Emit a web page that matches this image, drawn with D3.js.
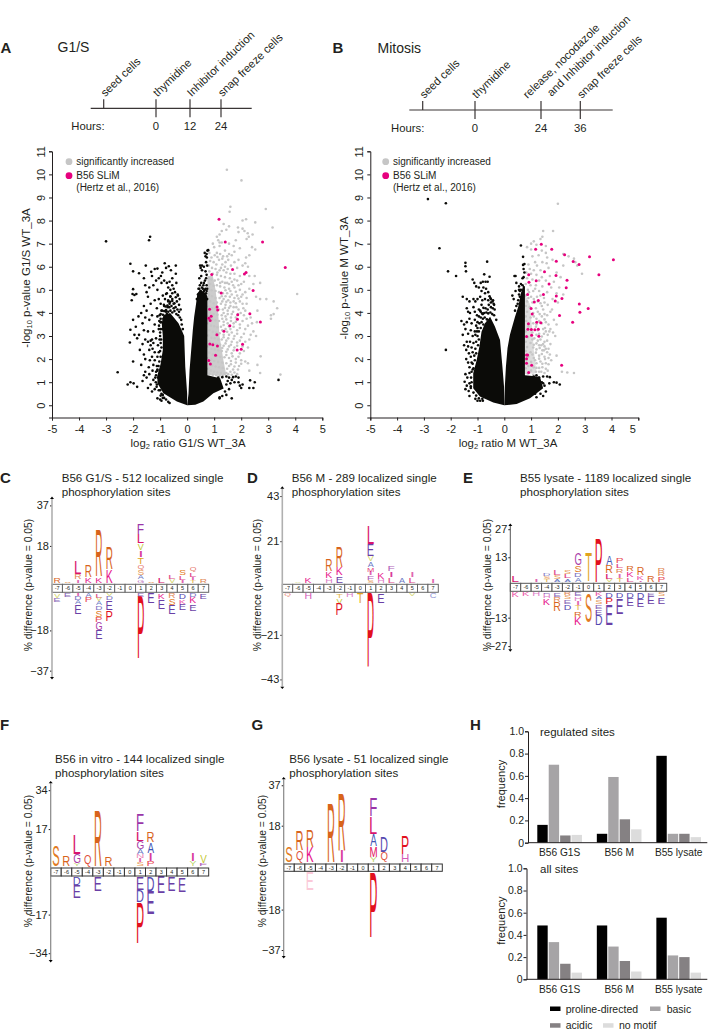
<!DOCTYPE html>
<html><head><meta charset="utf-8">
<script src="https://cdnjs.cloudflare.com/ajax/libs/d3/7.8.5/d3.min.js"></script>
<style>html,body{margin:0;padding:0;background:#fff}svg{display:block}text{font-family:"Liberation Sans",Arial,sans-serif;fill:#231f20}</style>
</head><body><svg id="c" width="709" height="1033"></svg>
<script>
// ---------- DATA ----------
const timelineA=[{t:"seed cells",h:""},{t:"thymidine",h:"0"},{t:"Inhibitor induction",h:"12"},{t:"snap freeze cells",h:"24"}];
const timelineB=[{t:"seed cells",h:""},{t:"thymidine",h:"0"},{t:"release, nocodazole|and Inhibitor induction",h:"24"},{t:"snap freeze cells",h:"36"}];

// dense black core of each volcano, outlined from the picture [log2 ratio, -log10 p]
const massA=[
[[0,0],[-.38,.16],[-.88,.52],[-1.1,.95],[-1.1,1.3],[-.98,1.8],[-.9,2.4],[-.9,3],[-.94,3.55],[-.88,3.9],[-.63,4],[-.32,3.55],[-.18,3.2],[-.11,3],[-.07,1.67],[0,.5]],
[[0,0],[.05,.5],[.09,1.53],[.14,2.25],[.21,3.26],[.26,3.84],[.33,4.4],[.38,4.85],[.48,5],[.7,4.85],[.75,4.7],[.75,1.3],[1.22,1.17],[1.35,.73],[.97,.52],[.6,.16],[.3,.02]]];
const massB=[
[[0,0],[-.41,.12],[-.91,.38],[-1.16,.74],[-1.16,1.39],[-1.03,1.96],[-.93,2.54],[-.85,3.19],[-.72,3.55],[-.53,3.84],[-.35,3.41],[-.16,2.83],[-.07,1.67],[-.01,.8]],
[[0,0],[.02,.8],[.06,1.67],[.12,2.47],[.21,3.05],[.4,3.84],[.52,4.27],[.62,4.85],[.71,5.2],[.77,5.14],[.77,1.3],[1.33,1.24],[1.45,.74],[.96,.3],[.46,.06]]];
// dense grey core, outlined from the picture
const coreA=[[.75,1.3],[1.45,1.3],[1.35,1.9],[1.2,3],[1.15,4],[1.05,5],[.95,5.6],[.75,5.6]];
const coreB=[[.77,1.35],[1.2,1.4],[1.1,2.4],[1.05,3.2],[.95,4.4],[.77,4.8]];

const blackA=[[-3,7.1],[-1.41,7.15],[-1.37,7.3],[-2.1,6.13],[-2,5.8],[-1.78,5.72],[-1.53,6.05],[-1.33,5.78],[-1.3,5.6],[-1.2,5.9],[-1.1,5.92],[-1.05,5.5],[-.97,5.6],[-.92,5.75],[-.83,6.15],[-.78,5.95],[-.68,6.02],[-.6,5.85],[-.55,5.5],[-.42,6.05],[-.42,5.7],[-.4,5.3],
[-2,5.03],[-2.02,4.82],[-1.95,4.78],[-1.88,4.82],[-2.05,4.55],[-1.6,5.5],[-1.55,5.2],[-1.5,4.9],[-1.4,5.1],[-1.25,5.2],[-1.15,5.4],[-1.1,5],[-.95,5.3],[-.85,5.4],[-.75,5.3],[-.7,5.1],[-.65,5.35],[-.62,5],[-.55,5.2],[-.5,5.05],[-.45,4.9],[-.35,4.8],
[-1.45,4.7],[-1.6,4.3],[-1.7,4],[-1.8,3.85],[-1.5,4.1],[-1.35,4.4],[-1.2,4.55],[-1.05,4.6],[-.98,4.4],[-.9,4.75],[-.82,4.6],[-.75,4.85],[-.7,4.5],[-.62,4.7],[-.55,4.6],[-.5,4.4],[-1.12,4.2],[-.95,4.1],[-.85,4.3],[-.78,4.05],[-.72,4.25],[-.65,4.4],
[-2,3.7],[-1.9,3.4],[-2.1,3.27],[-1.78,3.05],[-1.95,3.05],[-2.12,2.72],[-1.85,2.9],[-1.65,3.55],[-1.55,3.8],[-1.4,3.7],[-1.3,3.9],[-1.2,3.5],[-1.1,3.85],[-1.05,3.3],[-.98,3.6],[-1.25,3.2],[-1.45,3.2],[-1.6,3.25],[-1.02,3.9],[-.92,3.3],[-.88,3.75],
[-1.65,2.65],[-1.75,2.4],[-1.6,2.2],[-1.55,2.85],[-1.4,2.4],[-1.35,2.8],[-1.35,2.6],[-1.3,2.85],[-1.28,2.45],[-1.25,2.7],[-1.2,2.3],[-1.15,2.9],[-1.1,2.1],[-1.45,2.75],[-1.08,2.6],[-1.12,1.7],[-1.05,2.3],[-1.02,2.85],
[-2,1.9],[-1.7,1.75],[-1.55,2],[-1.38,1.95],[-1.3,2.1],[-1.25,1.75],[-1.2,1.95],[-1.1,1.5],[-1.15,1.3],[-1.28,1.5],[-1.42,1.65],[-1.55,1.45],
[-2.57,1.43],[-2.2,.9],[-2.1,1],[-1.98,.95],[-1.85,.8],[-1.6,1.3],[-1.65,1.05],[-1.5,1.2],[-1.4,1.35],[-1.35,.9],[-1.45,.75],[-1.25,1.1],[-1.2,.7],[-1.12,.9],[-1.3,.6],[-1.08,1.2],[-1.1,.3],[-1,.25],[-.95,.2],[-.85,.32],[-.95,.5],[-1,.65],[-.78,.25],[-.7,.15],[-.9,.45],
[.42,5.05],[.47,5.2],[.52,5.6],[.5,4.95],[.58,5.05],[.62,5.3],[.65,5],[.7,4.85],[.55,5.85],[.5,5.95],[.45,5.5],[.72,5.2],[.7,5.5],[.72,5.65],[.68,5.8],[.62,6],[.7,6.2],[.73,6.4],[.72,6.55],[.75,6.7],[.78,6.72],[.68,6.45],[.65,6.6],[.74,6.05],[.55,6.05],[.48,6.05],[.74,4.6],
[1.45,1.25],[1.55,1.2],[1.65,1.1],[1.7,1.22],[1.8,1.25],[1.9,1.2],[1.5,1.05],[1.6,.95],[1.75,1],[1.9,1],[1.95,.85],[2,.75],[2.05,.9],[1.45,.9],[1.4,.6],[1.55,.7],[1.3,.4],[1.2,.3],[1.65,.3],[2.3,.75],[2.45,.75],[2.33,1.08],[2.5,1],[3.38,1.1],[1.15,1.2],[1.3,1.22],[1.2,.35],[1.45,.45]];
const speckleA=[[-.78,4.82],[-.62,4.72],[-.55,4.85],[-.42,4.68],[-.34,4.75],[-.28,4.6],[-.7,4.55],[-.63,4.48],[-.55,4.52],[-.47,4.42],[-.38,4.5],[-.3,4.35],[-.24,4.15],[-.86,4.35],[-.8,4.28],[-.73,4.32],[-.66,4.25],[-.58,4.3],[-.5,4.2],[-.43,4.25],[-.36,4.15],[-.3,4.05],[-.93,4.1],[-.85,4.08],[-.78,4.12],[-.7,4.05],[-.62,4.1],[-.55,4.02],[-.47,4.08],[-.4,3.95],[-.33,3.9],[-.27,3.8],[-.22,3.7],[-.98,3.95],[-.9,3.92],[-.82,3.88],[-.75,3.95],[-.98,3.75],[-1.03,3.65],[-.97,3.6],[-1.04,3.45],[-.98,3.3],[-1,3.15],[-1,3],[-.96,2.85],[-.98,2.7],[-.95,2.5],[-1,2.35],[-.98,2.1],[-1.03,1.9],[-1.06,1.7],[-1.1,1.55],[-1.15,1.45],[-1.18,1.2],[-1.16,1],[-1.13,.8],[-1.05,.65],[-.98,.42],[-.9,.32],[-.65,.1],[.36,4.6],[.4,4.8],[.45,5.05],[.55,5.1],[.62,4.95],[.68,5.05],[.6,5.2],[.52,5.3],[.66,5.4],[.74,5.05],[.72,4.95],[-.16,3.3],[-.2,3.5]];

const blackB=[[-2.85,8.93],[-2.18,8.75],[-2.42,6.8],[-2.18,2.4],[-2.1,5.8],[-1.8,5.6],[-1.45,6.17],[-1.45,6.02],[-1.43,5.8],[-.64,6.22],[-.75,5.67],[-.55,5.57],
[-1.18,5.45],[-1.12,5.3],[-1.05,5.15],[-.95,5.1],[-.88,5.3],[-.8,5.35],[-.7,5.35],[-.62,5.35],[-.85,4.95],[-.78,5.1],[-.72,4.85],[-.68,5.05],[-.6,4.9],[-1.55,4.7],[-1.4,4.6],[-1.3,4.5],[-1.15,4.6],[-1.08,4.5],[-1,4.6],[-.9,4.7],[-.82,4.55],[-.72,4.6],[-.6,4.55],[-.52,4.65],[-.5,4.45],[-.42,4.55],[-.38,4.35],
[-1.4,4.2],[-1.35,4.05],[-1.28,4],[-1.15,4.25],[-1.1,4.05],[-1.02,3.9],[-.95,4.15],[-.88,4.05],[-.8,3.95],[-1.6,3.65],[-1.5,3.5],[-1.4,3.6],[-1.3,3.75],[-1.22,3.55],[-1.1,3.7],[-1.05,3.45],[-1.45,3.3],[-1.55,3.05],[-1.35,3.1],[-1.25,3.25],[-1.18,3],[-1.1,3.2],[-1.02,3.2],
[-1.4,2.75],[-1.5,2.6],[-1.42,2.4],[-1.35,2.55],[-1.28,2.75],[-1.22,2.5],[-1.15,2.7],[-1.32,2.25],[-1.25,2.1],[-1.18,2.3],[-1.42,2],[-1.35,1.85],[-1.22,1.85],[-1.3,1.65],[-1.18,1.55],[-1.45,1.35],[-1.38,1.2],[-1.3,1.4],[-1.48,1.02],[-1.4,.85],[-1.3,.95],[-1.45,.7],[-1.33,.62],[-1.25,.75],[-1.3,.4],[-1.08,.28],[-1,.2],[-.9,.2],[-.82,.28],
[.42,4.95],[.3,4.75],[.35,4.6],[.55,5],[.45,5.3],[.38,5.6],[.42,5.6],[.55,5.15],[.62,5.25],[.68,5.5],[.72,5.55],[.75,5.75],[.72,5.9],[.7,6.08],[.75,6.12],[.7,6.43],[.62,6.92],[.58,4.95],
[1.1,1.25],[1.2,1.3],[1.3,1.2],[1.45,1.25],[1.6,1.25],[1.7,1.22],[1.4,1],[1.45,.95],[1.5,.85],[1.68,.95],[1.85,1],[1.95,.98],[2.07,.9],[1.55,.6],[1.35,.5],[1.45,.4],[1.2,.35],[1.15,.5]];
const speckleB=[[-.55,4.72],[-.5,4.6],[-.44,4.5],[-.4,4.4],[-.58,4.35],[-.5,4.25],[-.43,4.2],[-.36,4.15],[-.62,4.15],[-.7,4.2],[-.78,4.22],[-.85,4.35],[-.9,4.1],[-.83,3.98],[-.75,4],[-.67,4.02],[-.6,3.98],[-.52,4.02],[-.45,3.95],[-.38,3.9],[-.3,3.7],[-.95,3.85],[-.88,3.8],[-.8,3.75],[-.73,3.8],[-.65,3.72],[-1,3.6],[-.93,3.55],[-.85,3.6],[-.78,3.5],[-1,3.35],[-.95,3.2],[-.88,3.35],[-1.08,3.05],[-1,3],[-.95,2.85],[-1.05,2.75],[-.98,2.6],[-1.08,2.45],[-1.05,2.25],[-1.12,2.15],[-1.1,1.95],[-1.18,1.8],[-1.15,1.6],[-1.22,1.45],[-1.24,1.2],[-1.22,1],[-1.25,.82],[-1.15,.55],[-1.05,.42],[-.95,.3],[-.8,.2],[.4,4.1],[.45,4.3],[.52,4.55],[.5,4.4],[.58,4.7],[.62,5],[.68,5.2],[.55,4.8]];

const grayA=[[1.47,10.2],[2.01,9.74],[1.6,8.6],[1.57,8.38],[2.91,8.5],[2.18,8.06],[2.05,8],[2.52,7.92],[1.35,7.85],[1.55,7.75],[1.45,7.6],[1.28,7.55],[1.2,7.4],[1.1,7.3],[1.88,7.7],[2.05,7.65],[2.12,7.55],[2.24,7.45],[2.42,7.4],[1.9,7.5],[3.16,7.7],[2.28,7.3],[2.2,7.2],[1.8,7.15],[1.55,7],[1.28,7.05],[1.15,7.15],[.95,7],[1,6.85],[1.2,6.9],[1.4,6.7],[1.72,6.9],[1.95,6.8],[2.4,6.85],[2.52,6.75],[2.3,6.5],[1.65,6.5],
[.82,6.6],[.9,6.4],[1.02,6.5],[1.1,6.6],[1.22,6.55],[1.33,6.45],[1.52,6.3],[1.18,6.3],[.85,6.25],[.98,6.2],[1.08,6.1],[1.3,6.1],[1.42,6.2],[1.62,6.05],[1.9,6.3],[2.18,6.4],[2.15,6.15],[2.05,6.05],[2.25,6],[.8,6.05],[.92,5.95],[1.05,5.9],[1.2,5.85],[1.35,5.85],[1.5,5.9],[1.75,5.7],[1.95,5.6],[2.3,5.6],[2.5,5.6],[2.7,5.3],
[.82,5.8],[.95,5.7],[1.1,5.65],[1.25,5.6],[1.4,5.55],[1.58,5.5],[.8,5.5],[.9,5.45],[1.02,5.4],[1.15,5.45],[1.3,5.35],[1.48,5.3],[1.65,5.35],[1.85,5.4],[2.1,5.35],[2.45,5.25],[.85,5.25],[.98,5.18],[1.1,5.2],[1.22,5.15],[1.38,5.1],[1.55,5.05],[1.75,5.1],[1.95,5],[2.15,4.9],[2.3,5.05],[.8,5.05],[.9,4.98],[1.05,4.95],[1.18,4.9],[1.32,4.85],[1.48,4.85],[1.65,4.8],[1.85,4.75],[2.05,4.8],[2.55,4.7],[2.7,4.6],[2.93,4.6],[4.07,4.82],[3.2,4.5],
[.8,4.8],[.92,4.72],[1.05,4.65],[1.2,4.65],[1.35,4.6],[1.52,4.55],[1.72,4.5],[1.95,4.5],[2.2,4.4],[.85,4.5],[.98,4.42],[1.1,4.45],[1.25,4.4],[1.42,4.35],[1.6,4.3],[1.82,4.25],[2.08,4.2],[.8,4.28],[.92,4.2],[1.05,4.2],[1.18,4.15],[1.32,4.15],[1.5,4.1],[1.7,4.05],[1.98,4],[2.6,4.1],[3.33,4.2],[3.2,3.95],[3.1,3.9],[.85,4.02],[.98,3.95],[1.12,3.92],[1.28,3.9],[1.42,3.85],[1.62,3.8],[1.8,3.8],[2.2,3.75],[3.1,3.75],
[.8,3.85],[.92,3.72],[1.05,3.68],[1.18,3.65],[1.35,3.62],[1.5,3.55],[1.72,3.55],[1.95,3.5],[2.4,3.55],[2.58,3.6],[.78,3.55],[.88,3.45],[1,3.42],[1.12,3.38],[1.25,3.4],[1.42,3.3],[1.6,3.3],[1.85,3.25],[2.15,3.3],[2.45,3.2],[.82,3.25],[.95,3.18],[1.08,3.15],[1.2,3.12],[1.35,3.05],[1.55,3.05],[1.75,3],[2,2.95],[2.55,3],[.78,3.02],[.9,2.92],[1.02,2.9],[1.15,2.85],[1.28,2.85],[1.45,2.8],[1.65,2.75],[1.85,2.72],[2.15,2.75],[.82,2.78],[.95,2.7],[1.08,2.65],[1.22,2.62],[1.35,2.58],[1.55,2.55],[1.75,2.5],[2.25,2.5],
[.78,2.55],[.9,2.45],[1.02,2.42],[1.15,2.38],[1.28,2.35],[1.45,2.32],[1.65,2.25],[1.95,2.25],[2.72,2.12],[.82,2.28],[.95,2.2],[1.1,2.15],[1.22,2.1],[1.38,2.08],[1.55,2.05],[1.8,2],[2,1.95],[2.15,1.9],[2.25,1.82],[.78,2.05],[.9,1.98],[1,1.92],[1.15,1.88],[1.3,1.85],[1.45,1.82],[1.62,1.78],[1.92,1.7],[2.6,1.75],[.8,1.8],[.92,1.72],[1.05,1.68],[1.18,1.65],[1.32,1.62],[1.48,1.58],[1.7,1.55],[1.88,1.55],[2.3,1.5],[2.7,1.4],[3.45,1.33],[.78,1.58],[.88,1.5],[1,1.45],[1.12,1.42],[1.25,1.4],[1.38,1.38],[1.52,1.35],[1.65,1.32],[.82,1.38],[.95,1.32],[1.08,1.3],[1.2,1.28],[1.32,1.27],[1.45,1.4]];
const grayA2=[[1.25,5.95],[1.12,5.75],[1.45,5.75],[1.6,5.7],[1.75,5.45],[1.9,5.2],[1.22,5.3],[1.4,5.3],[1.55,5.25],[1.7,5.2],[2,5.25],[1.42,4.98],[1.6,4.95],[1.8,4.92],[2,4.7],[2.2,4.65],[1.28,4.72],[1.42,4.72],[1.58,4.7],[1.75,4.65],[1.9,4.62],[1.3,4.5],[1.45,4.48],[1.6,4.45],[1.8,4.42],[2.05,4.4],[1.4,4.22],[1.55,4.22],[1.72,4.25],[1.9,4.15],[2.15,4.1],[1.35,4],[1.5,3.95],[1.65,3.95],[1.88,3.95],[2.1,3.9],[2.35,3.8],[1.3,3.75],[1.45,3.72],[1.62,3.65],[1.8,3.62],[2.05,3.65],[1.35,3.48],[1.55,3.42],[1.72,3.4],[1.95,3.35],[2.25,3.45],[1.3,3.25],[1.48,3.18],[1.65,3.15],[1.85,3.1],[2.1,3.1],[2.35,3.05],[1.35,2.95],[1.52,2.9],[1.72,2.88],[1.95,2.8],[2.3,2.85],[1.42,2.68],[1.62,2.62],[1.85,2.58],[2.05,2.55],[1.3,2.48],[1.5,2.42],[1.72,2.38],[2.1,2.35],[1.45,2.18],[1.68,2.12],[1.9,2.1],[1.62,1.92],[1.8,1.85],[2,1.8],[1.55,1.7],[1.75,1.68],[1.6,1.45],[1.75,1.42],[1.85,1.35],[1.3,6.35],[1.48,6.45],[1.12,6.42],[1.4,6],[1.75,6.2],[1.85,5.95],[1.55,6.55],[1.2,7.05],[1.75,6.65]];

const grayB=[[2,8.73],[1.45,7.55],[1.82,7.55],[1.42,7.3],[1.35,7.2],[1.1,7.1],[1,7],[1.2,6.95],[.85,6.85],[1.55,6.9],[1,6.75],[1.4,6.7],[1.55,6.6],[2.2,6.55],[1.28,6.5],[1.6,6.4],[1.8,6.3],[1.05,6.45],[2.4,6.45],[2.6,6.35],[2.65,6.2],[2.72,6.05],[2.2,6.05],[1.15,6.2],[1.42,6.2],[1.58,6.15],[.9,6.1],[1.22,6.05],[1.65,5.95],[2.9,5.7],[.95,5.9],[1.1,5.85],[1.35,5.85],[1.95,5.75],[2.1,5.55],
[.82,5.75],[1,5.7],[1.2,5.65],[1.4,5.55],[1.7,5.6],[.85,5.5],[1.05,5.45],[1.3,5.4],[1.55,5.4],[1.85,5.35],[.8,5.25],[.98,5.2],[1.18,5.2],[1.42,5.15],[1.75,5.1],[2.05,5.1],[.88,5],[1.08,4.95],[1.3,4.95],[1.6,4.9],[1.95,4.85],[2.2,4.8],[.8,4.75],[1,4.7],[1.22,4.7],[1.48,4.65],[1.8,4.6],[.85,4.5],[1.05,4.45],[1.35,4.42],[1.62,4.35],[2,4.45],[.8,4.3],[.95,4.25],[1.18,4.2],[1.45,4.15],[1.78,4.15],[.85,4.05],[1.08,4],[1.32,3.95],[1.6,3.9],[1.72,4.05],[.8,3.85],[.98,3.8],[1.2,3.75],[1.5,3.72],[1.85,3.7],[.82,3.65],[1.08,3.55],[1.4,3.55],[1.65,3.5],[1.95,3.5],
[.9,3.42],[1.18,3.4],[1.52,3.35],[1.72,3.3],[1.68,3.2],[1.82,3.15],[.8,3.2],[1.05,3.15],[1.3,3.1],[1.48,3.1],[1.62,3.05],[1.9,3],[.88,2.95],[1.12,2.9],[1.35,2.85],[1.6,2.8],[.8,2.75],[.98,2.7],[1.2,2.68],[1.45,2.65],[1.72,2.65],[.85,2.52],[1.08,2.5],[1.32,2.48],[1.55,2.45],[1.38,2.6],[1.48,2.38],[1.6,2.3],[.8,2.35],[.98,2.3],[1.18,2.28],[1.4,2.22],[1.7,2.2],[1.95,2.15],[.9,2.1],[1.1,2.05],[1.3,2.02],[1.52,2],[1.75,1.95],[.82,1.95],[1,1.88],[1.2,1.82],[1.42,1.8],[1.65,1.78],[.9,1.7],[1.1,1.65],[1.3,1.62],[1.55,1.58],[.8,1.6],[1,1.5],[1.18,1.45],[1.38,1.45],[1.62,1.5],[.88,1.38],[1.08,1.32],[2.15,1.45],[2.35,1.42],[2.6,1.4]];
const grayB2=[[.92,4.9],[1.15,5.05],[1.35,4.75],[1.1,4.6],[1.25,4.5],[1.5,4.45],[.9,4.65],[1.4,4.3],[1.25,4.05],[1.5,3.95],[1.4,3.85],[1.1,3.85],[1.3,3.65],[1.55,3.6],[1.2,3.5],[1.45,3.3],[1.25,3.25],[1.55,3.2],[1.2,3.05],[1.4,2.98],[1.05,2.85],[1.25,2.8],[1.5,2.75],[1.1,2.62],[1.3,2.6],[1.5,2.55],[1.2,2.42],[1.42,2.38],[1.65,2.45],[1.05,2.2],[1.3,2.15],[1.5,2.1],[1.65,2.05],[1.15,1.95],[1.35,1.9],[1.55,1.82],[1.2,1.62],[1.42,1.65],[1.3,1.45],[1.5,1.4]];

const pinkA=[[1.18,8.06],[1.41,7.07],[2.79,7.07],[3.63,5.97],[1.68,5.88],[2.18,5.75],[2.12,5.69],[.91,5.66],[2.44,4.97],[1.26,4.86],[1.11,4.26],[.83,4.16],[1.13,4.13],[2.32,3.96],[1.87,3.92],[.89,3.86],[.8,3.77],[.85,3.67],[1.86,3.73],[2.71,3.61],[1.58,3.45],[1.36,3.21],[1.1,3.06],[.84,2.66],[.95,2.62],[1.12,2.57],[2.05,2.64],[1.85,2.4],[2,2.43],[1.05,2.17],[.8,1.94],[.86,1.79]];
const pinkB=[[4.07,6.3],[3.18,6.43],[2.25,6.52],[2.57,6.23],[2.79,6.1],[1.94,6.24],[3.53,5.65],[1.77,6.76],[1.38,6.98],[1.17,6.76],[.91,5.65],[1.5,5.78],[1.93,5.62],[1.19,5.39],[.92,5.33],[2.34,5.42],[1.67,5.25],[2.31,5.09],[.87,4.8],[1.46,4.8],[1.94,4.73],[2.15,4.62],[1.27,4.54],[1.12,4.47],[1.9,4.52],[2.8,4.39],[1,4.19],[3.13,4.19],[2.82,4.03],[1.04,3.95],[2.06,3.89],[2.55,3.6],[1.21,3.6],[1.36,3.57],[.9,3.53],[.88,3.29],[1.01,3.28],[1.14,3.27],[1.27,3.29],[.83,2.98],[1.02,3.03],[1.29,2.99],[.83,2.18],[.87,2.18],[.83,2.02],[.83,1.82],[1.02,1.73],[2.14,1.73],[.91,1.42]];

// logo stacks: [position, letter, % , letter, % ...] listed top to bottom
const logoCUp=[[-7,"R",2.5],[-6,"S",.6],[-5,"L",6,"R",2.2,"I",1.4],[-4,"R",5.7,"K",2.5],[-3,"R",22,"K",2.6],[-2,"R",10,"K",5.9],[1,"F",4.6,"L",3.9,"V",2.8,"I",2.8,"T",3.1,"Q",2.3,"S",2.2,"A",1.5,"G",1.4],[2,"S",.7],[3,"L",2.5],[4,"L",1.5,"V",1.5],[5,"S",2.5,"L",1.9,"I",1],[6,"Q",2.2,"L",1.9,"I",1.2,"T",.9],[7,"R",1.9]];
const logoCDown=[[-7,"V",1.9,"E",1.9],[-6,"E",1.5],[-5,"I",1.2,"D",1.5,"A",1.5,"E",4.3],[-4,"A",1.5,"P",2.2],[-3,"L",1.9,"V",1.5,"A",1.5,"D",1.9,"S",2.8,"P",2.2,"G",3.4,"E",3.9],[-2,"V",1.2,"D",1.5,"E",4.3,"P",5],[1,"E",1.5,"P",28.8],[2,"E",4.6],[3,"K",2.5,"E",4.3],[4,"R",2.2,"S",2.8,"E",4],[5,"D",2.5,"K",1.9,"E",2.8],[6,"D",1.5,"K",2.8,"E",3.1],[7,"E",2.5]];
const logoDUp=[[-6,"V",.5],[-5,"K",2.6],[-3,"R",5.9,"K",2.9,"H",2],[-2,"R",10,"K",3.9,"E",3.2],[1,"L",8.8,"E",5.5,"V",2.3,"A",2.3,"M",2,"I",1.5,"F",1.9,"S",1],[2,"K",2.9,"H",1.6],[3,"F",2.3,"I",2.6,"L",2.3],[4,"A",2.3],[5,"I",2.3,"L",2.3],[7,"I",1.6]];
const logoDDown=[[-7,"Q",1.6],[-5,"H",2.9],[-2,"T",2,"V",2.6,"P",5.5],[-1,"H",1.6],[0,"T",4.9],[1,"P",35.8],[2,"E",4.6],[5,"V",1.3],[7,"C",2.3]];
const logoEUp=[[-7,"L",3],[-5,"I",1],[-4,"D",1.3,"S",1.3,"T",1],[-3,"L",2.3,"S",1.7,"A",1],[-2,"S",1.7,"L",2,"A",1.3],[-1,"G",5.7,"S",3.3,"D",2,"A",2],[0,"T",14.3],[1,"P",21.7],[2,"A",4.3,"R",3.7,"L",2.7,"V",1],[3,"P",2.3,"L",2,"R",2,"I",2,"T",1.7],[4,"R",2.7,"K",2.7,"L",2],[5,"R",3.7,"K",1.7,"I",.7],[6,"R",3],[7,"R",1.7,"R",1.7,"P",2.3]];
const logoEDown=[[-7,"K",2.2],[-6,"K",1.8],[-5,"H",1.8],[-4,"E",.8,"H",1.7,"K",3],[-3,"E",2,"R",2.3,"R",4.2],[-2,"R",1.3,"S",1.7,"E",2,"D",2.7],[-1,"E",1.8,"H",2,"I",1.7,"T",2.3,"R",2.7,"K",3.7],[0,"S",14.5],[1,"K",1.7,"A",1.3,"S",2,"E",2,"E",2.7,"D",4.7],[2,"D",2.5,"P",3,"E",10],[3,"D",2.5,"E",7.7],[4,"D",2.5,"E",4],[5,"D",3,"E",4],[6,"E",1.5,"E",3.7],[7,"S",1.8,"E",3.3]];
const logoFUp=[[-7,"S",9],[-6,"R",4.4],[-5,"L",8.4,"G",4,"Y",1],[-4,"Q",5.3],[-3,"R",24.5],[-2,"R",3.8],[1,"F",7.3,"L",3.8,"G",3.2,"A",2,"N",1.5,"I",1.5,"S",1.5],[2,"R",4.4,"A",4.4,"I",3.2,"P",2],[6,"I",3.2,"Y",2],[7,"V",3.5,"F",1.2]];
const logoFDown=[[-5,"D",3.2,"E",5.8],[-3,"E",6.1],[1,"E",5.5,"D",5.2,"P",17.5],[2,"D",6.1,"E",9.9],[3,"E",7],[4,"E",6.1],[5,"E",6.4]];
const logoGUp=[[-7,"S",7.5],[-6,"R",9,"Q",5.6],[-5,"R",8.1,"K",6.9],[-3,"R",27.2],[-2,"R",26.6,"I",5.6],[1,"F",8.4,"L",7.8,"A",5.6,"M",4.7,"Y",2.2],[2,"D",6.9,"Q",4.4],[4,"P",8.1,"H",3.4]];
const logoGDown=[[-5,"e",8.1],[1,"P",30.3]];
const logoPositions=[-7,-6,-5,-4,-3,-2,-1,0,1,2,3,4,5,6,7];

const barGroups=["B56 G1S","B56 M","B55 lysate"];
const barKeys=["proline-directed","basic","acidic","no motif"];
const regulatedSites=[[.16,.70,.065,.07],[.08,.59,.21,.12],[.78,.08,.08,.05]];
const allSites=[[.485,.335,.14,.06],[.485,.295,.165,.07],[.555,.215,.20,.06]];
const barTicks=[0,.2,.4,.6,.8,1];

// ---------- STYLE ----------
const aaColor={R:"#d8641c",K:"#e6158c",L:"#d8146e",F:"#9a35a8",V:"#c4c832",I:"#d83c9c",T:"#e0a41e",Q:"#e0503c",S:"#e27a22",A:"#3f55b5",G:"#a83ca8",P:"#e2101e",E:"#6a3fa6",D:"#5448b0",H:"#d45ab8",M:"#e2105c",Y:"#a8c83c",C:"#6a70c8",N:"#e86aa8",e:"#fbc9d8"};
const barColor=d3.scaleOrdinal(barKeys,["#000","#a6a4a6","#858183","#dcdcdc"]);
const svg=d3.select("#c");

function txt(g,x,y,s,size,opt={}){const t=g.append("text").attr("x",x).attr("y",y).attr("font-size",size).text(s);
 if(opt.weight)t.attr("font-weight",opt.weight); if(opt.anchor)t.attr("text-anchor",opt.anchor);
 if(opt.rot)t.attr("transform",`rotate(${opt.rot},${x},${y})`); return t;}

[["A",.5,52.5],["B",332.5,52.5],["C",0,483],["D",247,483],["E",463,483],["F",0,730],["G",251.5,730],["H",470,730]].forEach(d=>txt(svg,d[1],d[2],d[0],15,{weight:"bold"}));
txt(svg,57.5,51.5,"G1/S",14); txt(svg,377.5,52.5,"Mitosis",14);

// ---------- TIMELINES ----------
function timeline(items,xs,y,x0,x1,hoursX){
 const g=svg.append("g");
 g.append("line").attr("x1",x0).attr("x2",x1).attr("y1",y).attr("y2",y).attr("stroke","#3a3535").attr("stroke-width",1.2);
 items.forEach((d,i)=>{const x=xs[i];
  g.append("line").attr("x1",x).attr("x2",x).attr("y1",y-9).attr("y2",i?y+9:y).attr("stroke","#3a3535").attr("stroke-width",1.2);
  const parts=d.t.split("|");
  if(parts.length==1) txt(g,x+1.5,y-11,d.t,11.3,{rot:-44});
  else {txt(g,x-13.5,y-11,parts[0],11.3,{rot:-44}); txt(g,x+10.5,y-13,parts[1],11.3,{rot:-44});}
  if(d.h)txt(g,x,y+22,d.h,11.3,{anchor:"middle"});
 });
 txt(g,hoursX,y+22,"Hours:",11.3);
}
timeline(timelineA,[103.7,156,190,221],108.3,90.7,251.7,71.3);
timeline(timelineB,[422.7,475,541,580.3],110,409.3,612.7,391);

// ---------- VOLCANOES ----------
function volcano(o){
 const g=svg.append("g");
 const x=d3.scaleLinear([-5,5],[o.x0,o.x1]);
 const y=d3.scaleLinear([0,11],[405.3,151.3]);
 const ln=d3.line().x(d=>x(d[0])).y(d=>y(d[1])).curve(d3.curveLinearClosed);
 g.append("path").attr("d",ln(o.core)).attr("fill","#c6c6c6").attr("opacity",o.coreOp);
 const dot=(data,fill,r)=>g.append("g").selectAll("circle").data(data).join("circle").attr("cx",d=>x(d[0])).attr("cy",d=>y(d[1])).attr("r",r).attr("fill",fill);
 dot(o.gray,"#c6c6c6",1.3);
 g.selectAll("path.m").data(o.mass).join("path").attr("class","m").attr("d",ln).attr("fill","#0b0b08");
 dot(o.black,"#0b0b08",1.3); dot(o.pink,"#e6007e",1.5);
 const xa=g.append("g").attr("transform","translate(0,417.5)").call(d3.axisBottom(x).tickValues(d3.range(-5,6)).tickSize(3).tickFormat(d3.format("d")));
 xa.selectAll("text").attr("font-size",11).attr("dy",".85em").attr("fill","#231f20").style("font-family","'Liberation Sans'").text(d=>d<0?"-"+(-d):d);
 if(o.shift5) xa.selectAll("text").filter(d=>d==5).attr("dx",-6);
 const ya=d3.scaleLinear([-.53,11],[417.5,151.3]);
 const yag=g.append("g").attr("transform",`translate(${o.x0},0)`).call(d3.axisLeft(ya).tickValues(d3.range(0,12)).tickSize(3).tickFormat(d3.format("d")));
 yag.selectAll("text").attr("x",0).attr("dy",0).attr("text-anchor","middle").attr("font-size",11).attr("transform","translate(-7,0) rotate(-90)").attr("fill","#231f20");
 [xa,yag].forEach(a=>{a.selectAll("path,line").attr("stroke","#231f20").attr("stroke-width",1);});
 g.append("circle").attr("cx",o.legX).attr("cy",161.7).attr("r",3.4).attr("fill","#c6c6c6");
 g.append("circle").attr("cx",o.legX).attr("cy",175.7).attr("r",3.4).attr("fill","#e6007e");
 const lx=o.legX+7.3;
 txt(g,lx,165,"significantly increased",10); txt(g,lx,178.7,"B56 SLiM",10); txt(g,lx,190.7,"(Hertz et al., 2016)",10);
 const yl=txt(g,o.yLab,278,"-log",11.5,{anchor:"middle",rot:-90});
 yl.append("tspan").attr("font-size",7.5).attr("dy",2).text("10");
 yl.append("tspan").attr("dy",-2).text(" p-value "+o.name+" WT_3A");
 const xl=txt(g,o.xLab,447,"log",11.4,{anchor:"middle"});
 xl.append("tspan").attr("font-size",7.5).attr("dy",2).text("2");
 xl.append("tspan").attr("dy",-2).text(" ratio "+o.name+" WT_3A");
}
volcano({x0:52,x1:322.3,mass:massA,core:coreA,coreOp:.9,gray:grayA.concat(grayA2),black:blackA.concat(speckleA),pink:pinkA,legX:69,yLab:30,xLab:188,name:"G1/S"});
volcano({x0:370.3,x1:638.3,mass:massB,core:coreB,coreOp:.6,gray:grayB.concat(grayB2),black:blackB.concat(speckleB),pink:pinkB,legX:385.7,yLab:348,xLab:508,name:"M",shift5:true});

// ---------- LOGOS ----------
const mctx=document.createElement("canvas").getContext("2d");
mctx.font='100px "Liberation Sans"';
function logo(o){
 const g=svg.append("g");
 const y=d3.scaleLinear([o.end,1e-6,-1e-6,-o.end],[o.top,o.s0,o.s1,o.bot]);
 const hUp=d3.scaleLinear([0,o.end],[0,o.s0-o.top]), hDn=d3.scaleLinear([0,o.end],[0,o.bot-o.s1]);
 const x=d3.scaleBand(logoPositions,[o.x0,o.x1]);
 function glyph(ch,cx,yTop,h){
  const real=ch==="e"?"E":ch, m=mctx.measureText(real);
  const gw=m.actualBoundingBoxLeft+m.actualBoundingBoxRight, gh=m.actualBoundingBoxAscent+m.actualBoundingBoxDescent;
  const w=(real==="I"?1.9:o.lw), sx=w/gw, sy=h/gh;
  g.append("text").attr("font-size",100).attr("opacity",h<5?.78:1).style("fill",aaColor[ch])
   .attr("transform",`translate(${cx-w/2+m.actualBoundingBoxLeft*sx},${yTop+m.actualBoundingBoxAscent*sy}) scale(${sx},${sy})`).text(real);
 }
 o.up.forEach(r=>{const cx=x(r[0])+x.bandwidth()/2; let b=o.s0-1.6;
  for(let i=r.length-2;i>=1;i-=2){const h=hUp(r[i+1]); glyph(r[i],cx,b-h,h); b-=h+.7;}});
 o.down.forEach(r=>{const cx=x(r[0])+x.bandwidth()/2; let t=o.s1+1.3;
  for(let i=1;i<r.length;i+=2){const h=hDn(r[i+1]); glyph(r[i],cx,t,h); t+=h+.7;}});
 const cell=g.selectAll("g.c").data(logoPositions).join("g").attr("transform",d=>`translate(${x(d)},${o.s0})`);
 cell.append("rect").attr("width",x.bandwidth()).attr("height",o.s1-o.s0).attr("fill","#fff").attr("stroke",o.strip).attr("stroke-width",1);
 cell.append("text").attr("x",x.bandwidth()/2).attr("y",(o.s1-o.s0)/2+2).attr("text-anchor","middle").attr("font-size",5.5).text(d=>d);
 const ag=g.append("g").attr("transform",`translate(${o.x0},0)`).call(d3.axisLeft(y).tickValues(o.ticks).tickSize(2).tickPadding(1).tickFormat(d3.format("d")));
 ag.select(".domain").remove();
 ag.selectAll("line").attr("stroke","#231f20");
 ag.selectAll("text").attr("font-size",11).attr("fill","#231f20");
 g.append("line").attr("x1",o.x0).attr("x2",o.x0).attr("y1",o.top).attr("y2",o.bot).attr("stroke",o.axis).attr("stroke-width",o.axisW);
 [[o.top,-1],[o.bot,1]].forEach(([py,s])=>g.append("path").attr("d",d3.line()([[o.x0-2,py],[o.x0+2,py],[o.x0,py+s*2.4]])).attr("fill","#000"));
 txt(g,o.labX,o.labY,"% difference (p-value = 0.05)",10.3,{anchor:"middle",rot:-90});
 o.title.forEach((t,i)=>txt(g,o.titleX,o.titleY+i*14,t,11.6));
}
const t2="phosphorylation sites";
logo({up:logoCUp,down:logoCDown,end:40,top:499,bot:677,s0:584.3,s1:592.3,x0:52,x1:208.7,ticks:[37,18,-18,-37],strip:"#666",axis:"#b0b0b0",axisW:1.6,lw:6,labX:32,labY:585,titleX:61.7,titleY:481.7,title:["B56 G1/S - 512 localized single",t2]});
logo({up:logoDUp,down:logoDDown,end:46.6,top:488.7,bot:686.7,s0:584.3,s1:592.3,x0:282.3,x1:438.3,ticks:[43,21,-21,-43],strip:"#666",axis:"#b0b0b0",axisW:1.6,lw:6,labX:261,labY:585,titleX:291.7,titleY:481.7,title:["B56 M - 289 localized single",t2]});
logo({up:logoEUp,down:logoEDown,end:28.6,top:526,bot:649.3,s0:583.3,s1:591.3,x0:510.3,x1:666.7,ticks:[27,13,-13,-27],strip:"#555",axis:"#555",axisW:1,lw:6.3,labX:490.7,labY:585,titleX:520,titleY:481.7,title:["B55 lysate - 1189 localized single",t2]});
logo({up:logoFUp,down:logoFDown,end:37,top:783.3,bot:960,s0:868,s1:876,x0:50.7,x1:208.7,ticks:[34,17,-17,-34],strip:"#333",axis:"#888",axisW:1.2,lw:6.6,labX:32,labY:861,titleX:55,titleY:763.3,title:["B56 in vitro - 144 localized single",t2]});
logo({up:logoGUp,down:logoGDown,end:39.8,top:779.3,bot:956,s0:864,s1:871.3,x0:283.7,x1:442.3,ticks:[37,18,-18,-37],strip:"#333",axis:"#888",axisW:1.2,lw:6.6,labX:265.7,labY:861,titleX:289.3,titleY:763.3,title:["B56 lysate - 51 localized single",t2]});

// ---------- BARS ----------
function bars(vals,y0,y1,axX,label,labY,catY,freqY){
 const g=svg.append("g");
 const x=d3.scaleBand(barGroups,[537.3,701]).paddingInner(.25);
 const xi=d3.scaleBand(barKeys,[0,x.bandwidth()]).paddingInner(.09);
 const y=d3.scaleLinear([0,1],[y0,y1]);
 barGroups.forEach((grp,i)=>{
  g.append("g").selectAll("rect").data(vals[i]).join("rect").attr("x",(d,j)=>x(grp)+xi(barKeys[j])).attr("y",d=>y(d)).attr("width",xi.bandwidth()).attr("height",d=>y0-y(d)).attr("fill",(d,j)=>barColor(barKeys[j]));
  txt(g,x(grp)+x.bandwidth()/2,catY,grp,10.2,{anchor:"middle"});
 });
 const a=g.append("g").attr("transform",`translate(${axX},0)`).call(d3.axisLeft(y).tickValues(barTicks).tickSize(3).tickPadding(1).tickFormat(d=>d?d3.format(".1f")(d):"0"));
 a.selectAll("path,line").attr("stroke","#231f20");a.selectAll("text").attr("font-size",10.5).attr("fill","#231f20");
 g.append("line").attr("x1",axX).attr("x2",707.3).attr("y1",y0).attr("y2",y0).attr("stroke","#231f20");
 txt(g,540,labY,label,11.5);
 txt(g,505,freqY,"frequency",11,{anchor:"middle",rot:-90});
}
bars(regulatedSites,842.7,731.3,528,"regulated sites",735.7,855.7,784);
bars(allSites,979.3,868.3,526.5,"all sites",872.7,992.7,920.7);
[[550,1010,0,565.7],[650,1010,1,666.7],[550,1026.7,2,565.7],[603,1026.7,3,619]].forEach(d=>{
 svg.append("rect").attr("x",d[0]).attr("y",d[1]-3.5).attr("width",10.5).attr("height",4.5).attr("fill",barColor(barKeys[d[2]]));
 txt(svg,d[3],d[1]+2.5,barKeys[d[2]],10.5);
});
</script></body></html>
